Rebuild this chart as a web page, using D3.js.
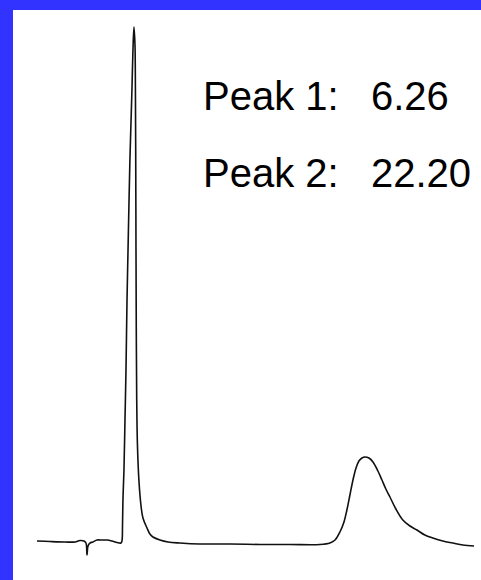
<!DOCTYPE html>
<html>
<head>
<meta charset="utf-8">
<script src="https://cdn.jsdelivr.net/npm/d3@7"></script>
<style>
html,body{margin:0;padding:0;background:#3333ff;}
svg{display:block;}
</style>
</head>
<body>
<script>
// Retention time (min) and detector signal (relative %)
const times = [-0.43,0.46,1.50,2.19,2.53,2.81,2.95,3.02,3.09,3.22,3.43,3.71,4.05,4.40,4.74,5.09,5.36,
  5.43,5.47,5.50,5.57,5.64,5.71,5.78,5.85,5.92,5.98,6.05,6.12,6.19,6.26,
  6.33,6.36,6.38,6.40,6.42,6.45,6.50,6.60,6.74,6.88,7.16,7.36,7.57,8.05,8.61,9.43,
  10.81,12.88,14.95,17.02,19.09,19.78,20.13,20.47,20.75,20.95,21.16,21.37,21.58,21.78,21.99,22.20,
  22.47,22.75,23.09,23.37,23.64,23.92,24.33,24.81,25.30,25.78,26.33,26.88,27.57,28.26,28.95,29.72];
const signal = [0.58,0.48,0.39,0.39,0.68,0.58,0.19,-2.13,-0.39,0.19,0.39,0.77,0.77,0.77,0.58,0.29,0.19,
  0.58,3.68,8.51,14.31,23.98,33.66,47.20,56.87,66.54,74.27,81.04,87.81,95.55,100,
  96.52,87.81,76.21,56.87,41.39,27.85,19.15,12.38,7.54,5.03,3.09,1.93,1.35,0.77,0.39,0.19,
  0,0,-0.10,-0.10,-0.10,0.19,0.77,2.32,4.26,6.58,9.48,12.38,14.70,16.05,16.63,16.83,
  16.63,15.86,14.12,12.38,10.64,9.09,6.77,4.64,3.48,2.71,1.74,1.16,0.58,0.19,-0.19,-0.39];
const peakLabels = ["Peak 1:", "Peak 2:"];
const peakTimes = ["6.26", "22.20"];

const W = 481, H = 580;
const svg = d3.select("body").append("svg").attr("width", W).attr("height", H);
svg.append("rect").attr("width", W).attr("height", H).attr("fill", "#3333ff");
svg.append("rect").attr("x", 13).attr("y", 10).attr("width", W - 13).attr("height", H - 10).attr("fill", "#ffffff");

const x = d3.scaleLinear().domain([-0.43, 29.72]).range([37, 474]);
const y = d3.scaleLinear().domain([0, 100]).range([544, 27]);

const pts = times.map((t, i) => [t, signal[i]]);
svg.append("path").datum(pts)
  .attr("d", d3.line().x(d => x(d[0])).y(d => y(d[1])).curve(d3.curveCatmullRom.alpha(0.5)))
  .attr("fill", "none").attr("stroke", "#111").attr("stroke-width", 1.6)
  .attr("stroke-linejoin", "round");

const g = svg.append("g").attr("font-family", "Liberation Sans, Arial, sans-serif")
  .attr("font-size", 40).attr("fill", "#000");
peakLabels.forEach((lab, i) => {
  const by = 110 + i * 77;
  g.append("text").attr("x", 203).attr("y", by).text(lab);
  g.append("text").attr("x", 371).attr("y", by).text(peakTimes[i]);
});
</script>
</body>
</html>
